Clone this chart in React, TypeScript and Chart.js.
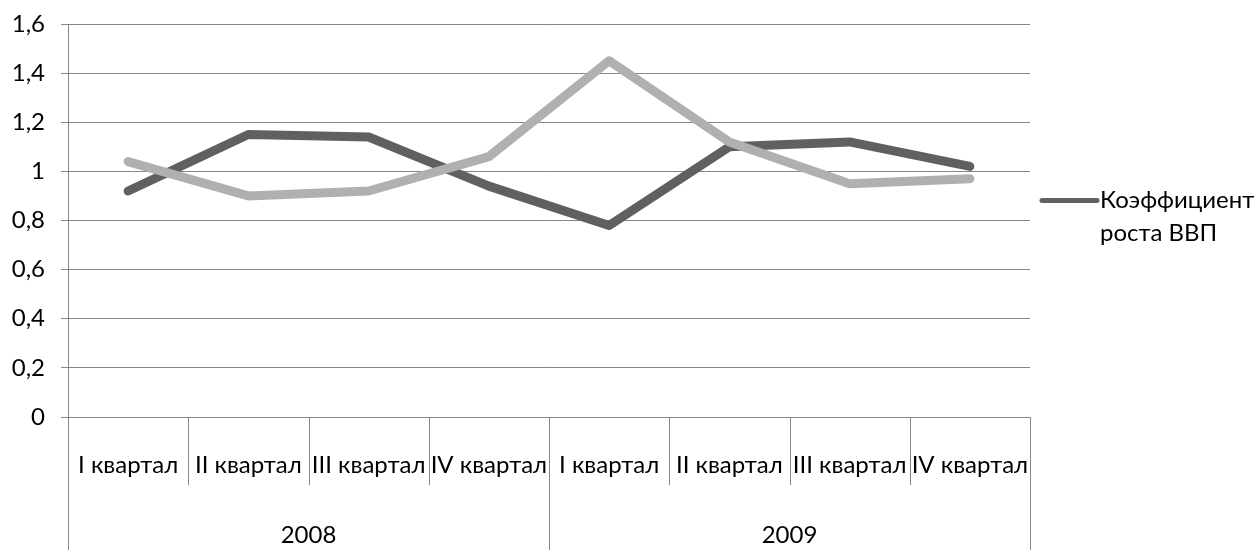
import React, { useEffect, useRef } from "react";
import { Chart, registerables } from "chart.js";

Chart.register(...registerables);

// Category levels: quarters inside years
const quarters = [
  "I квартал",
  "II квартал",
  "III квартал",
  "IV квартал",
  "I квартал",
  "II квартал",
  "III квартал",
  "IV квартал",
];
const years = ["2008", "2009"];
const quartersPerYear = 4;

// Series values
const gdpGrowth = [0.92, 1.15, 1.14, 0.94, 0.78, 1.1, 1.12, 1.02];
const secondSeries = [1.04, 0.9, 0.92, 1.06, 1.45, 1.12, 0.95, 0.97];

// Legend text (wrapped onto two lines)
const gdpLegendLines = ["Коэффициент", "роста ВВП"];

// Value axis
const yMin = 0;
const yMax = 1.6;
const yStep = 0.2;

const FONT = "Lato, 'Open Sans', sans-serif";
const FONT_SIZE = 24;
const GRID = "#868686";
const DARK = "#606060";
const LIGHT = "#b0b0b0";
const TEXT = "#000000";

const groupedAxisPlugin = {
  id: "groupedCategoryAxis",
  afterDraw(chart: any) {
    const { ctx, chartArea } = chart;
    const x = chart.scales.x;
    const n = quarters.length;
    const step = x.getPixelForValue(1) - x.getPixelForValue(0);
    const bottom = chartArea.bottom;

    ctx.save();
    ctx.strokeStyle = GRID;
    ctx.lineWidth = 1;
    for (let i = 0; i <= n; i++) {
      const px = Math.round(x.getPixelForValue(i) - step / 2) + 0.5;
      const isYearEdge = i % quartersPerYear === 0;
      ctx.beginPath();
      ctx.moveTo(px, bottom);
      ctx.lineTo(px, bottom + (isYearEdge ? 133 : 68));
      ctx.stroke();
    }

    ctx.fillStyle = TEXT;
    ctx.font = `${FONT_SIZE}px ${FONT}`;
    ctx.textAlign = "center";
    ctx.textBaseline = "middle";
    quarters.forEach((q, i) => {
      ctx.fillText(q, x.getPixelForValue(i), bottom + 48);
    });
    years.forEach((yr, j) => {
      const first = x.getPixelForValue(j * quartersPerYear);
      const last = x.getPixelForValue(j * quartersPerYear + quartersPerYear - 1);
      ctx.fillText(yr, (first + last) / 2, bottom + 118);
    });
    ctx.restore();
  },
};

const sideLegendPlugin = {
  id: "sideLegend",
  afterDraw(chart: any) {
    const { ctx, chartArea } = chart;
    const ds = chart.data.datasets[0];
    const midY = (chartArea.top + chartArea.bottom) / 2;
    const x0 = chartArea.right + 12;
    const y0 = midY - 20;
    ctx.save();
    ctx.strokeStyle = ds.borderColor;
    ctx.lineWidth = 5;
    ctx.lineCap = "round";
    ctx.beginPath();
    ctx.moveTo(x0, y0);
    ctx.lineTo(x0 + 55, y0);
    ctx.stroke();
    ctx.fillStyle = TEXT;
    ctx.font = `${FONT_SIZE}px ${FONT}`;
    ctx.textAlign = "left";
    ctx.textBaseline = "middle";
    gdpLegendLines.forEach((line, i) => {
      ctx.fillText(line, x0 + 58, y0 + i * 33);
    });
    ctx.restore();
  },
};

export default function App() {
  const canvasRef = useRef<HTMLCanvasElement | null>(null);

  useEffect(() => {
    if (!canvasRef.current) return;
    const chart = new Chart(canvasRef.current, {
      type: "line",
      data: {
        labels: quarters,
        datasets: [
          {
            label: gdpLegendLines.join(" "),
            data: gdpGrowth,
            borderColor: DARK,
            backgroundColor: DARK,
            borderWidth: 9,
            borderCapStyle: "round",
            borderJoinStyle: "round",
            pointRadius: 0,
            tension: 0,
            order: 1,
          },
          {
            label: "Ряд 2",
            data: secondSeries,
            borderColor: LIGHT,
            backgroundColor: LIGHT,
            borderWidth: 9,
            borderCapStyle: "round",
            borderJoinStyle: "round",
            pointRadius: 0,
            tension: 0,
            order: 0,
          },
        ],
      },
      options: {
        responsive: false,
        animation: false,
        layout: { padding: { top: 24, right: 228, bottom: 139, left: 0 } },
        plugins: {
          legend: { display: false },
          tooltip: { enabled: false },
        },
        scales: {
          x: {
            type: "category",
            display: false,
            offset: true,
          },
          y: {
            min: yMin,
            max: yMax,
            afterFit(scale: any) {
              // fixed axis width; the layout padding already leaves room for the end labels
              scale.width = 68;
              scale.paddingTop = 0;
              scale.paddingBottom = 0;
            },
            ticks: {
              stepSize: yStep,
              padding: 16,
              color: TEXT,
              font: { family: FONT, size: FONT_SIZE },
              callback: (v: any) => {
                const s = Number(v).toFixed(1).replace(/\.0$/, "");
                return s.replace(".", ",");
              },
            },
            grid: {
              color: GRID,
              lineWidth: 1,
              tickLength: 7,
              drawTicks: true,
            },
            border: { color: GRID, width: 1 },
          },
        },
      },
      plugins: [groupedAxisPlugin, sideLegendPlugin],
    });
    return () => chart.destroy();
  }, []);

  return (
    <div style={{ position: "absolute", left: 0, top: 0, width: 1258, height: 556, background: "#fff" }}>
      <canvas ref={canvasRef} width={1258} height={556} style={{ display: "block" }} />
    </div>
  );
}
